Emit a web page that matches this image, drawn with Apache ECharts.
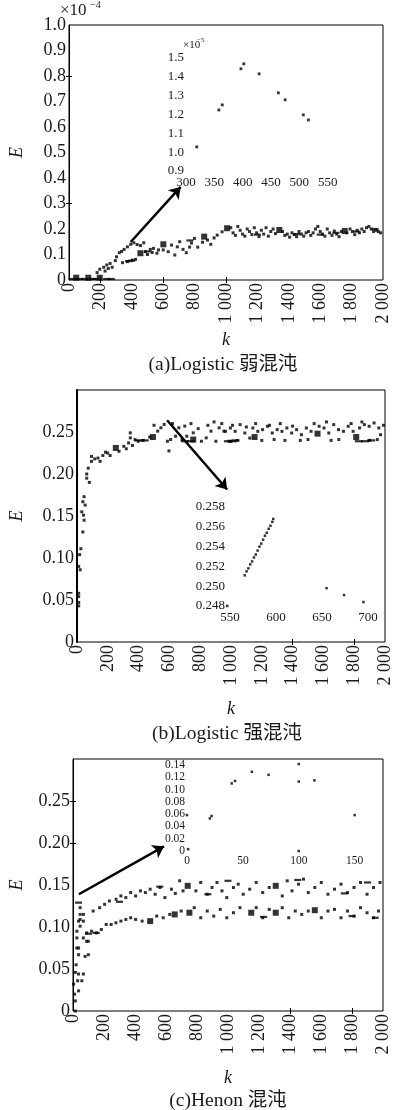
<!DOCTYPE html>
<html>
<head>
<meta charset="utf-8">
<script src="https://cdn.jsdelivr.net/npm/echarts@6/dist/echarts.min.js"></script>
<style>
html, body { margin: 0; padding: 0; background: #fff; }
#main { width: 394px; height: 1110px; }
</style>
</head>
<body>
<div id="main"></div>
<script>
const SERIF = '"Liberation Serif", "Noto Sans CJK SC", serif';
const INK = '#1a1a1a';

// (a) Logistic 弱混沌  -- E in units of 1e-4
const aDots = [
  [179,0.029],[196,0.042],[221,0.05],[241,0.059],[262,0.065],[295,0.076],[303,0.091],[320,0.107],[335,0.112],
  [351,0.12],[372,0.13],[393,0.14],[413,0.146],[434,0.139],[455,0.135],[476,0.146],[230,0.035],[250,0.045],[275,0.05],
  [341,0.068],[372,0.072],[403,0.078],[424,0.081],[486,0.111],[518,0.12],[538,0.124],[570,0.118],[632,0.111],
  [653,0.137],[674,0.098],[705,0.15],[726,0.12],[747,0.107],[768,0.129],[799,0.163],[820,0.129],[882,0.157],
  [903,0.14],[924,0.165],[944,0.176],[975,0.189],[560,0.105],[600,0.118],[690,0.13],[780,0.145],[850,0.148],
  [500,0.1],[530,0.108],
  [1030,0.205],[1045,0.185],[1060,0.175],[1075,0.21],[1090,0.195],[1105,0.18],[1120,0.172],[1135,0.2],[1150,0.19],
  [1165,0.178],[1180,0.205],[1195,0.185],[1210,0.17],[1225,0.195],[1240,0.18],[1255,0.205],[1270,0.172],[1285,0.19],
  [1300,0.2],[1315,0.182],[1360,0.19],[1375,0.175],[1390,0.18],[1405,0.168],[1420,0.185],[1435,0.178],[1450,0.17],
  [1465,0.19],[1480,0.18],[1495,0.172],[1510,0.185],[1525,0.19],[1540,0.175],[1555,0.185],[1570,0.2],[1585,0.21],
  [1600,0.19],[1615,0.18],[1630,0.172],[1645,0.2],[1660,0.185],[1675,0.175],[1690,0.192],[1705,0.18],[1720,0.17],
  [1735,0.19],[1770,0.185],[1790,0.2],[1805,0.19],[1820,0.178],[1835,0.195],[1850,0.185],[1865,0.2],[1880,0.19],
  [1895,0.205],[1910,0.21],[1925,0.2],[1940,0.19],[1955,0.195],[1970,0.19],[1985,0.185]
];
const aSquares = [[46,0.009],[123,0.009],[196,0.009],[455,0.105],[601,0.14],[861,0.17],[1007,0.203],[1340,0.196],[1756,0.192]];
const aDashes = [[20,0.004],[70,0.004],[100,0.004],[150,0.004],[170,0.004],[240,0.004],[270,0.004],[380,0.074],[400,0.076],
  [500,0.112],[770,0.155],[1200,0.178],[1450,0.18],[1600,0.178],[1700,0.185],[1830,0.19],[1950,0.2]];
const aInset = [[319,1.028],[358,1.224],[364,1.251],[397,1.443],[402,1.469],[429,1.416],[463,1.315],[475,1.278],[507,1.198],[516,1.171]];
const aArrow = [[393,0.149],[711,0.365]];
const aTickK = [200,600,1000];
const aTickE = [0.3,0.8];

// (b) Logistic 强混沌
const bDots = [
  [46,0.173],[38,0.167],[53,0.163],[31,0.155],[42,0.151],[46,0.145],[38,0.131],[25,0.111],[17,0.104],[11,0.09],
  [21,0.086],[11,0.058],[11,0.054],[11,0.047],[11,0.043],[63,0.195],[73,0.207],[80,0.19],[63,0.2],
  [94,0.215],[94,0.221],[115,0.218],[136,0.219],[150,0.215],[168,0.222],[185,0.226],[199,0.225],[215,0.222],
  [273,0.227],[304,0.233],[320,0.23],[335,0.237],[346,0.249],[346,0.243],[360,0.234],[377,0.241],[398,0.239],
  [430,0.24],[472,0.244],[524,0.251],[545,0.255],[566,0.259],[587,0.239],[597,0.2275],[608,0.241],[640,0.245],
  [661,0.255],[682,0.241],[713,0.245],[755,0.249],[787,0.254],[808,0.239],[839,0.243],[870,0.251],[902,0.239],
  [923,0.255],[954,0.251],[986,0.239],[500,0.258],[620,0.26],[700,0.257],[740,0.26],[850,0.258],[890,0.262],[940,0.26],
  [964,0.2508],[996,0.2548],[1027,0.2508],[1059,0.2588],[1090,0.2488],[1122,0.2428],[1142,0.2548],[1174,0.2508],
  [1205,0.2528],[1237,0.2568],[1268,0.2488],[1300,0.2528],[1331,0.2508],[1363,0.2548],[1394,0.2488],[1426,0.2528],
  [1457,0.2468],[1489,0.2548],[1520,0.2508],[1572,0.2568],[1604,0.2548],[1635,0.2488],[1667,0.2588],[1698,0.2528],
  [1730,0.2508],[1761,0.2568],[1793,0.2508],[1835,0.2548],[1866,0.2588],[1897,0.2568],[1929,0.2608],[1960,0.2548],
  [1971,0.2468],
  [1000,0.239],[1040,0.24],[1200,0.24],[1280,0.241],[1350,0.24],[1450,0.24],[1500,0.241],[1650,0.24],[1700,0.241],
  [1900,0.24],[1950,0.241],
  [1010,0.258],[1100,0.256],[1160,0.26],[1250,0.258],[1320,0.26],[1400,0.257],[1540,0.26],[1620,0.262],[1780,0.26],
  [1850,0.262],[1990,0.258]
];
const bSquares = [[252,0.231],[493,0.244],[755,0.241],[1153,0.244],[1562,0.248],[1813,0.244]];
const bDashes = [[400,0.24],[440,0.24],[700,0.239],[740,0.239],[980,0.239],[1010,0.239],[1030,0.24],[1830,0.239],
  [1870,0.239],[1910,0.24]];
const bInset = [[547,0.248],[566,0.2511],[568,0.2515],[570,0.2518],[572,0.2522],[574,0.2525],[576,0.2529],[578,0.2532],
  [580,0.2536],[582,0.254],[584,0.2543],[586,0.2547],[588,0.2551],[590,0.2554],[592,0.2558],[594,0.2561],[596,0.2565],
  [597,0.2568],[655,0.2498],[674,0.2491],[695,0.2484]];
const bArrow = [[585,0.264],[975,0.1815]];
const bTickK = [1400,1800];

// (c) Henon 混沌
const cDots = [
  [15,0],[15,0.012],[36,0.024],[4,0.032],[30,0.036],[57,0.036],[67,0.044],[36,0.044],[15,0.046],[78,0.065],[36,0.067],
  [99,0.067],[25,0.075],[88,0.083],[25,0.087],[36,0.075],[67,0.107],[46,0.109],[67,0.115],[36,0.107],[46,0.101],
  [67,0.087],[99,0.083],[46,0.123],[46,0.115],[20,0.055],[10,0.02],[25,0.095],
  [130,0.119],[172,0.123],[204,0.127],[235,0.131],[278,0.133],[309,0.137],[341,0.135],[372,0.141],[404,0.137],
  [435,0.143],[467,0.141],[498,0.145],[530,0.139],[561,0.147],[593,0.135],[635,0.145],[688,0.155],[660,0.14],[710,0.143],
  [793,0.143],[824,0.153],[866,0.139],[897,0.147],[929,0.153],[961,0.143],[992,0.135],[1035,0.147],[1066,0.151],
  [1098,0.139],[1140,0.145],[1182,0.153],[1224,0.141],[1266,0.147],[1350,0.137],[1382,0.155],[1413,0.143],[1455,0.151],
  [1487,0.157],[1518,0.141],[1560,0.147],[1602,0.153],[1645,0.139],[1687,0.145],[1729,0.151],[1771,0.141],[1813,0.147],
  [1855,0.153],[1897,0.139],[1939,0.147],[1981,0.153],
  [88,0.093],[120,0.095],[151,0.093],[183,0.097],[214,0.103],[246,0.103],[277,0.105],[309,0.107],[341,0.109],[372,0.111],
  [404,0.109],[446,0.107],[540,0.113],[582,0.111],[624,0.115],[698,0.119],[782,0.123],[824,0.111],[866,0.119],[908,0.113],
  [950,0.121],[992,0.111],[1035,0.117],[1077,0.123],[1182,0.123],[1224,0.111],[1266,0.121],[1350,0.123],[1392,0.111],
  [1434,0.119],[1476,0.115],[1518,0.119],[1602,0.111],[1645,0.119],[1687,0.121],[1729,0.111],[1771,0.119],[1813,0.113],
  [1855,0.123],[1897,0.117],[1939,0.111],[1971,0.119]
];
const cSquares = [[740,0.149],[1308,0.149],[498,0.107],[656,0.115],[751,0.117],[1150,0.117],[1308,0.117],[1560,0.12]];
const cDashes = [[36,0.129],[100,0.092],[150,0.093],[300,0.13],[560,0.148],[870,0.139],[1000,0.155],[1450,0.156],
  [1750,0.14],[1900,0.153],[1230,0.112],[1800,0.113],[1950,0.111]];
const cInset = [[0,0.0585],[1,0.003],[20.5,0.053],[22,0.057],[40,0.11],[43,0.114],[58,0.129],[73,0.124],[100,0.1415],
  [100,0.113],[114,0.115],[150,0.0585],[100,0]];
const cArrow = [[38,0.139],[587,0.196]];
const cTickK = [1400,1800];
const cTickE = [0.2,0.25];

const kFmt = v => v >= 1000 ? Math.floor(v / 1000) + ' ' + String(v % 1000).padStart(3, '0') : String(v);

function mainX(gi, ticks, gap) {
  return [{
    gridIndex: gi, type: 'value', min: 0, max: 2000, interval: 200, position: 'bottom',
    axisLine: { show: false }, splitLine: { show: false },
    axisTick: { show: true, inside: true, length: 3, customValues: ticks, lineStyle: { color: '#000' } },
    axisLabel: { rotate: 90, margin: 3, color: INK, fontSize: 18, fontFamily: SERIF, formatter: kFmt },
    name: 'k', nameLocation: 'middle', nameGap: gap,
    nameTextStyle: { fontStyle: 'italic', fontSize: 18, fontFamily: SERIF, color: INK }
  }, {
    gridIndex: gi, type: 'value', min: 0, max: 2000, position: 'top',
    axisLine: { show: false }, splitLine: { show: false }, axisLabel: { show: false },
    axisTick: { show: true, inside: true, length: 3, customValues: ticks, lineStyle: { color: '#000' } }
  }];
}

function mainY(gi, max, interval, fmt, ticks, gap, lw) {
  const tk = ticks.length
    ? { show: true, inside: true, length: 3, customValues: ticks, lineStyle: { color: '#000' } }
    : { show: false };
  return [{
    gridIndex: gi, type: 'value', min: 0, max: max, interval: interval,
    axisLine: { show: true, lineStyle: { color: '#000', width: lw } }, splitLine: { show: false },
    axisTick: tk,
    axisLabel: { margin: 3, color: INK, fontSize: 18, fontFamily: SERIF, formatter: fmt },
    name: 'E', nameLocation: 'middle', nameGap: gap,
    nameTextStyle: { fontStyle: 'italic', fontSize: 18, fontFamily: SERIF, color: INK }
  }, {
    gridIndex: gi, type: 'value', min: 0, max: max, position: 'right',
    axisLine: { show: false }, splitLine: { show: false }, axisLabel: { show: false }, axisTick: tk
  }];
}

function insetAxis(gi, min, max, interval, fmt, size, margin) {
  return {
    gridIndex: gi, type: 'value', min: min, max: max, interval: interval,
    axisLine: { show: false }, axisTick: { show: false }, splitLine: { show: false },
    axisLabel: { margin: margin, color: INK, fontSize: size, fontFamily: SERIF, formatter: fmt }
  };
}

const fmtE1 = v => v === 0 ? '0' : v.toFixed(1);
const fmtE2 = v => v === 0 ? '0' : (v > 0.29 ? '' : v.toFixed(2));

function pts(data, xi, yi, size, clip) {
  return {
    type: 'scatter', xAxisIndex: xi, yAxisIndex: yi, data: data, symbol: 'rect', symbolSize: size,
    itemStyle: { color: '#000' }, silent: true, clip: clip !== false
  };
}

function arrow(s, ends) {
  s.markLine = {
    silent: true, symbol: ['none', 'arrow'], symbolSize: 11,
    lineStyle: { color: '#000', width: 2.5, type: 'solid' }, label: { show: false },
    data: [[{ coord: ends[0] }, { coord: ends[1] }]]
  };
  return s;
}

function text(x, y, str, size, extra) {
  return {
    type: 'text', x: x, y: y, silent: true,
    style: Object.assign({ text: str, fontSize: size, fontFamily: SERIF, fill: INK }, extra || {})
  };
}

const border = { show: true, borderColor: '#000', borderWidth: 1, backgroundColor: 'transparent' };

const option = {
  animation: false,
  backgroundColor: '#fff',
  grid: [
    Object.assign({ left: 62, top: 25, width: 321, height: 255 }, border),
    { left: 186, top: 58, width: 170, height: 113 },
    Object.assign({ left: 70, top: 390, width: 318, height: 252 }, border),
    { left: 230, top: 507, width: 138, height: 99 },
    Object.assign({ left: 66, top: 759, width: 317, height: 252 }, border),
    { left: 187, top: 765, width: 190, height: 86 }
  ],
  xAxis: [
    ...mainX(0, aTickK, 51),
    insetAxis(1, 300, 600, 50, v => v <= 550 ? String(v) : '', 13, 5),
    ...mainX(2, bTickK, 58),
    insetAxis(3, 550, 700, 50, v => String(v), 13, 5),
    ...mainX(4, cTickK, 58),
    insetAxis(5, 0, 170, 50, v => v % 50 === 0 ? String(v) : '', 11.5, 4)
  ],
  yAxis: [
    ...mainY(0, 1.0, 0.1, fmtE1, aTickE, 43, 1),
    insetAxis(1, 0.9, 1.5, 0.1, v => v.toFixed(1), 13, 2),
    ...mainY(2, 0.3, 0.05, fmtE2, [], 51, 2),
    insetAxis(3, 0.248, 0.258, 0.002, v => v.toFixed(3), 13, 5),
    ...mainY(4, 0.3, 0.05, fmtE2, cTickE, 47, 1),
    insetAxis(5, 0, 0.14, 0.02, v => v === 0 ? '0' : v.toFixed(2), 11.5, 2)
  ],
  series: [
    arrow(pts(aDots, 0, 0, 3), aArrow),
    pts(aSquares, 0, 0, 6),
    pts(aDashes, 0, 0, [7, 2.2]),
    pts(aInset, 2, 2, 2.8, false),
    arrow(pts(bDots, 3, 3, 3), bArrow),
    pts(bSquares, 3, 3, 6),
    pts(bDashes, 3, 3, [8, 2.2]),
    pts(bInset, 5, 5, 2.5, false),
    arrow(pts(cDots, 6, 6, 3), cArrow),
    pts(cSquares, 6, 6, 6),
    pts(cDashes, 6, 6, [7, 2.2]),
    pts(cInset, 8, 8, 2.5, false)
  ],
  graphic: [
    text(60, 2, '×10', 17),
    text(90, 0, '−4', 10),
    text(183, 40, '×10', 11),
    text(197, 37, '−5', 7),
    text(223, 365, '(a)Logistic 弱混沌', 19.5, { align: 'center', verticalAlign: 'middle' }),
    text(227, 734, '(b)Logistic 强混沌', 19.5, { align: 'center', verticalAlign: 'middle' }),
    text(228, 1101, '(c)Henon 混沌', 19.5, { align: 'center', verticalAlign: 'middle' })
  ]
};

const chart = echarts.init(document.getElementById('main'), null, { renderer: 'canvas' });
chart.setOption(option);
</script>
</body>
</html>
